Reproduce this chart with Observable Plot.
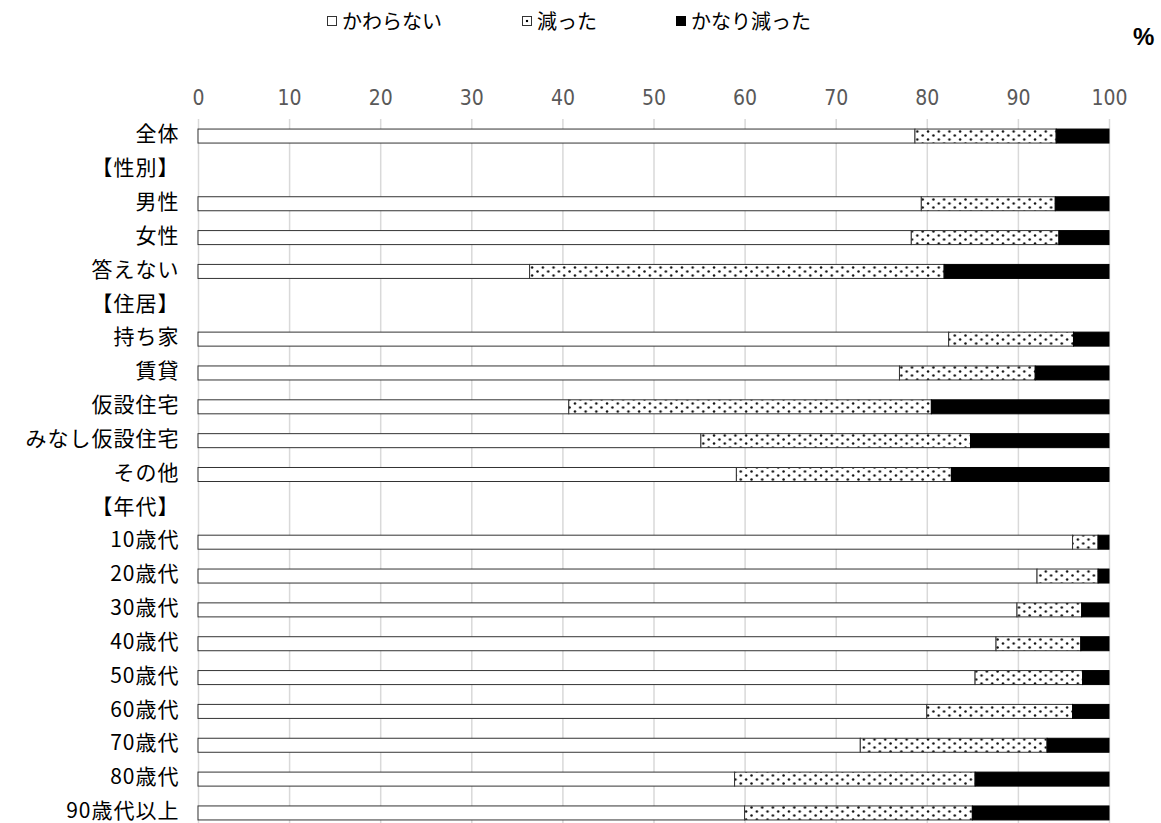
<!DOCTYPE html>
<html>
<head>
<meta charset="utf-8">
<script src="https://cdn.jsdelivr.net/npm/d3@7"></script>
<script src="https://cdn.jsdelivr.net/npm/@observablehq/plot@0.6"></script>
<style>
  body { margin: 0; background: #fff; font-family: "Noto Sans CJK JP", sans-serif; }
  #wrap { position: relative; width: 1161px; height: 823px; overflow: hidden; }
  #legend { position: relative; height: 60px; }
  .item { position: absolute; top: 8px; font-size: 20px; line-height: 26px; color: #000; display: flex; align-items: center; }
  .sw { width: 8px; height: 8px; border: 1px solid #333; margin-right: 5px; box-sizing: content-box; }
  #pct { position: absolute; left: 1133px; top: 22px; font-size: 24px; line-height: 30px; font-weight: bold; font-family: "Liberation Sans", sans-serif; }
  svg [aria-label="y-axis tick label"] text { letter-spacing: 1px; }
</style>
</head>
<body>
<div id="wrap">
  <div id="legend"></div>
  <div id="pct">%</div>
  <div id="chart"></div>
</div>
<script>
const categories = ["全体","【性別】","男性","女性","答えない","【住居】","持ち家","賃貸","仮設住宅","みなし仮設住宅","その他","【年代】","10歳代","20歳代","30歳代","40歳代","50歳代","60歳代","70歳代","80歳代","90歳代以上"];
const barCategories = ["全体","男性","女性","答えない","持ち家","賃貸","仮設住宅","みなし仮設住宅","その他","10歳代","20歳代","30歳代","40歳代","50歳代","60歳代","70歳代","80歳代","90歳代以上"];
const seriesNames = ["かわらない","減った","かなり減った"];
const kawaranai = [78.7, 79.4, 78.3, 36.4, 82.4, 77.0, 40.7, 55.2, 59.1, 96.0, 92.1, 89.9, 87.6, 85.3, 80.0, 72.7, 58.9, 60.0];
const hetta     = [15.5, 14.7, 16.2, 45.5, 13.7, 14.9, 39.8, 29.6, 23.6, 2.8, 6.7, 7.1, 9.3, 11.8, 16.0, 20.5, 26.4, 25.0];
const kanari    = [5.8, 5.9, 5.5, 18.1, 3.9, 8.1, 19.5, 15.2, 17.3, 1.2, 1.2, 3.0, 3.1, 2.9, 4.0, 6.8, 14.7, 15.0];
const xTicks = [0,10,20,30,40,50,60,70,80,90,100];

const seriesValues = [kawaranai, hetta, kanari];
const fills = {"かわらない": "#ffffff", "減った": "url(#dots)", "かなり減った": "#000000"};

const rows = [];
barCategories.forEach((c, i) => {
  seriesNames.forEach((s, j) => rows.push({cat: c, series: s, value: seriesValues[j][i]}));
});

// pick a condensed font for the numeric axis if one is installed
function hasFont(name) {
  const ctx = document.createElement("canvas").getContext("2d");
  const probe = "100 abcwxyz 1234567890";
  ctx.font = "40px monospace";
  const a = ctx.measureText(probe).width;
  ctx.font = `40px "${name}", monospace`;
  return ctx.measureText(probe).width !== a;
}
let tickFont = '"Noto Sans CJK JP", sans-serif', tickSize = 20;
if (hasFont("Liberation Sans Narrow")) { tickFont = '"Liberation Sans Narrow", sans-serif'; tickSize = 25; }
else if (hasFont("DejaVu Sans Condensed")) { tickFont = '"DejaVu Sans Condensed", sans-serif'; tickSize = 21; }

// legend
const legend = document.getElementById("legend");
const legendPos = [327, 522, 676];
seriesNames.forEach((s, i) => {
  const it = document.createElement("div");
  it.className = "item";
  it.style.left = legendPos[i] + "px";
  const sw = document.createElement("span");
  sw.className = "sw";
  if (i === 1) { sw.style.background = "radial-gradient(circle at 50% 50%, #000 0 1.3px, #fff 1.6px)"; }
  if (i === 2) { sw.style.background = "#000"; sw.style.borderColor = "#000"; }
  it.appendChild(sw);
  it.appendChild(document.createTextNode(s));
  legend.appendChild(it);
});

const chart = Plot.plot({
  width: 1161,
  height: 763,
  marginLeft: 198,
  marginRight: 52,
  marginTop: 66,
  marginBottom: 0,
  style: {fontFamily: '"Noto Sans CJK JP", sans-serif', background: "#fff", overflow: "visible"},
  x: {domain: [0, 100], axis: null},
  y: {domain: categories, paddingInner: 0.586, paddingOuter: 0.09, round: false, axis: null},
  color: {type: "identity"},
  marks: [
    Plot.ruleX(xTicks, {stroke: "#d9d9d9", strokeWidth: 1.5, insetTop: -7}),
    Plot.axisX(xTicks, {anchor: "top", tickSize: 0, tickPadding: 22, fontSize: tickSize, fontFamily: tickFont, fill: "#595959", tickFormat: d => d, label: null}),
    Plot.axisY({anchor: "left", tickSize: 0, tickPadding: 19, fontSize: 21, dy: -2, fill: "#000", label: null}),
    Plot.barX(rows, Plot.stackX({
      x: "value",
      y: "cat",
      fill: d => fills[d.series],
      stroke: d => d.series === "かなり減った" ? "#000" : "#333",
      strokeWidth: 1
    }))
  ]
});

// pattern definition for the dotted series
const ns = "http://www.w3.org/2000/svg";
const defs = document.createElementNS(ns, "defs");
defs.innerHTML = `<pattern id="dots" patternUnits="userSpaceOnUse" width="10.7" height="8" x="0" y="1">
  <rect width="10.7" height="8" fill="#fff"/>
  <circle cx="2.5" cy="2.5" r="1.25" fill="#111"/>
  <circle cx="7.85" cy="6.5" r="1.25" fill="#111"/>
</pattern>`;
chart.insertBefore(defs, chart.firstChild);

document.getElementById("chart").appendChild(chart);
</script>
</body>
</html>
